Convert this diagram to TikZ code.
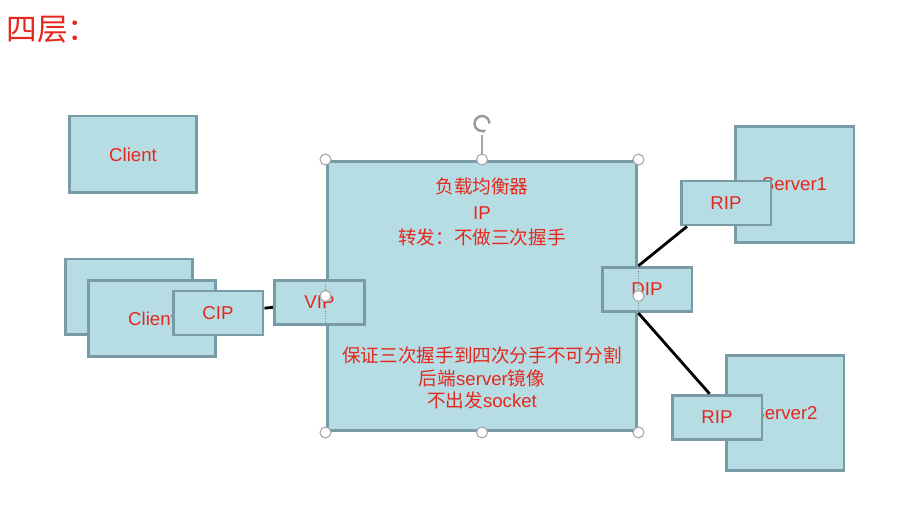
\documentclass[tikz,border=0pt]{standalone}
\usepackage{fontspec}
\setmainfont{Liberation Sans}
\newfontfamily\cjk{Noto Sans CJK SC}
\usetikzlibrary{calc, arrows.meta}
\definecolor{boxfill}{RGB}{183,221,228}
\definecolor{boxline}{RGB}{120,155,165}
\definecolor{txtred}{RGB}{228,40,30}
\tikzset{
  box/.style={rectangle, draw=boxline, fill=boxfill, line width=1.7pt, text=txtred, inner sep=0pt, font=\fontsize{10.6}{13}\selectfont},
  ipbox/.style={box, minimum width=1.8cm, minimum height=0.89cm},
  note/.style={text=txtred, align=center, inner sep=0pt},
  link/.style={line width=1.6pt, black},
  handle/.style={circle, draw=gray!70, fill=white, line width=0.6pt, inner sep=0pt, minimum size=0.22cm}
}

\begin{document}
\begin{tikzpicture}[x=0.02cm, y=-0.02cm]
\useasboundingbox (0,0) rectangle (920,530);

% Titulo
\node[anchor=west, inner sep=0pt, text=txtred, font=\cjk\fontsize{17.5}{20}\selectfont] (title) at (6,30) {四层：};

% Clientes
\node[box, minimum width=2.56cm, minimum height=1.54cm] (client) at (133,154.5) {Client};
\node[box, minimum width=2.56cm, minimum height=1.52cm] (clientback) at (129,297) {};
\node[box, minimum width=2.56cm, minimum height=1.54cm] (clientfront) at (152,318.5) {Client};
\node[ipbox, minimum height=0.88cm] (cip) at (218,313) {CIP};

% Balanceador
\node[box, minimum width=6.2cm, minimum height=5.4cm] (lb) at (482,296) {};
\node[note, font=\fontsize{10.6}{14.7}\selectfont] (lbinfo) at (482,212)
  {{\cjk 负载均衡器}\\IP\\{\cjk 转发：不做三次握手}};
\node[note, font=\fontsize{10.6}{12.8}\selectfont] (lbnote) at (482,378)
  {{\cjk 保证三次握手到四次分手不可分割}\\{\cjk 后端}server{\cjk 镜像}\\{\cjk 不出发}socket};
\node[ipbox] (vip) at (319.5,302.5) {VIP};
\node[ipbox] (dip) at (647,289.5) {DIP};

% Servidores
\node[box, minimum width=2.38cm, minimum height=2.34cm] (server1) at (794.5,184.5) {Server1};
\node[ipbox, minimum height=0.88cm] (rip1) at (726,203) {RIP};
\node[box, minimum width=2.36cm, minimum height=2.32cm] (server2) at (785,413) {Server2};
\node[ipbox] (rip2) at (717,417.5) {RIP};

% Conexiones
\draw[link] (cip) -- (vip);
\draw[link] (lb.east |- dip.north) -- ($(rip1.south west)!0.08!(rip1.south east)$);
\draw[link] (lb.east |- dip.south) -- ($(rip2.north west)!0.42!(rip2.north east)$);

% Seleccion del balanceador
\draw[densely dotted, gray, thin] (lb.west |- vip.north) -- (lb.west |- vip.south);
\draw[densely dotted, gray, thin] (lb.east |- dip.north) -- (lb.east |- dip.south);
\coordinate (rot) at ($(lb.north)+(0,-36)$);
\draw[gray!70, line width=0.6pt] (lb.north) -- ($(rot)+(0,11)$);
\draw[gray!80, line width=1.4pt, -{Stealth[length=2.5pt]}] ($(rot)+(0.15cm,0)$) arc[start angle=0, end angle=300, radius=0.15cm];
\foreach \a in {north west, north, north east, west, east, south west, south, south east}
  \node[handle] (h-\a) at (lb.\a) {};

\end{tikzpicture}
\end{document}
